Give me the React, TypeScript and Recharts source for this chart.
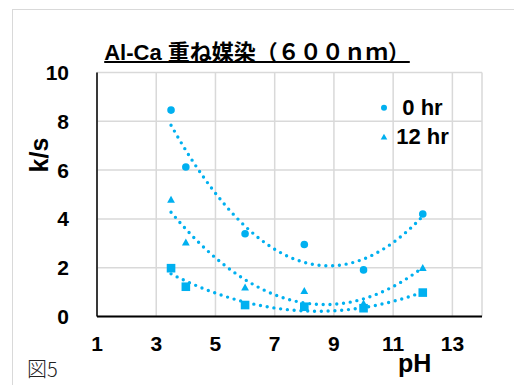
import React from 'react';
import {
	ComposedChart,
	XAxis,
	YAxis,
	CartesianGrid,
	Scatter,
	Line,
	Legend,
} from 'recharts';

const COLOR = '#00B0F0';
const FONT = '"Liberation Sans", Arial, "Noto Sans CJK JP", sans-serif';

const phValues = [3.5, 4, 6, 8, 10, 12];
const hr0 = [8.46, 6.13, 3.39, 2.95, 1.91, 4.2];
const hr12 = [4.8, 3.05, 1.2, 1.06, 0.55, 2.0];
const hr24 = [1.98, 1.22, 0.47, 0.4, 0.34, 0.98];

const xTicks = [1, 3, 5, 7, 9, 11, 13];
const yTicks = [0, 2, 4, 6, 8, 10];
const legendItems = [
	{ name: '0 hr', shape: 'circle' },
	{ name: '12 hr', shape: 'triangle' },
];

// polynomial (order 2) trendline, like Excel's
function quadFit(xs: number[], ys: number[]) {
	let s0 = 0, s1 = 0, s2 = 0, s3 = 0, s4 = 0, t0 = 0, t1 = 0, t2 = 0;
	xs.forEach((x, i) => {
		const y = ys[i];
		s0 += 1; s1 += x; s2 += x * x; s3 += x ** 3; s4 += x ** 4;
		t0 += y; t1 += x * y; t2 += x * x * y;
	});
	const det = (m: number[][]) =>
		m[0][0] * (m[1][1] * m[2][2] - m[1][2] * m[2][1]) -
		m[0][1] * (m[1][0] * m[2][2] - m[1][2] * m[2][0]) +
		m[0][2] * (m[1][0] * m[2][1] - m[1][1] * m[2][0]);
	const A = [[s0, s1, s2], [s1, s2, s3], [s2, s3, s4]];
	const b = [t0, t1, t2];
	const d = det(A);
	const coef = [0, 1, 2].map((k) =>
		det(A.map((row, r) => row.map((v, c) => (c === k ? b[r] : v)))) / d
	);
	const pts = [];
	const lo = Math.min(...xs);
	const hi = Math.max(...xs);
	for (let x = lo; x <= hi + 1e-9; x += 0.05) {
		pts.push({ x, y: coef[0] + coef[1] * x + coef[2] * x * x });
	}
	return pts;
}

const toPoints = (ys: number[]) => phValues.map((x, i) => ({ x, y: ys[i] }));

const CircleMark = (p: any) => <circle cx={p.cx} cy={p.cy} r={3.8} fill={COLOR} />;
const TriMark = (p: any) => (
	<polygon
		points={`${p.cx},${p.cy - 3.6} ${p.cx + 3.9},${p.cy + 3.3} ${p.cx - 3.9},${p.cy + 3.3}`}
		fill={COLOR}
	/>
);
const SquareMark = (p: any) => (
	<rect x={p.cx - 4.3} y={p.cy - 4.3} width={8.6} height={8.6} fill={COLOR} />
);

const renderLegend = () => (
	<svg width={120} height={60} style={{ display: 'block' }}>
		{legendItems.map((item, i) => {
			const cy = 17.7 + i * 29;
			return (
				<g key={item.name}>
					{item.shape === 'circle' ? (
						<circle cx={14} cy={cy} r={3} fill={COLOR} />
					) : (
						<polygon points={`14,${cy - 3} 17.3,${cy + 2.8} 10.7,${cy + 2.8}`} fill={COLOR} />
					)}
					<text
						x={52.5}
						y={cy + 7.5}
						textAnchor='middle'
						fontFamily={FONT}
						fontWeight='bold'
						fontSize={22}
						fill='#000'
					>
						{item.name}
					</text>
				</g>
			);
		})}
	</svg>
);

export default function App() {
	const tick = { fontFamily: FONT, fontWeight: 'bold', fontSize: 21, fill: '#000' };
	const trend = {
		dataKey: 'y',
		type: 'linear' as const,
		dot: false,
		stroke: COLOR,
		strokeWidth: 3.4,
		strokeDasharray: '0 6.8',
		strokeLinecap: 'round' as const,
		isAnimationActive: false,
		legendType: 'none' as const,
	};
	return (
		<div
			style={{
				position: 'absolute',
				left: 0,
				top: 0,
				width: 514,
				height: 385,
				overflow: 'hidden',
				background: '#fff',
			}}
		>
			<div
				style={{
					position: 'absolute',
					left: 12,
					top: 9,
					width: 700,
					height: 600,
					border: '1.5px solid #d9d9d9',
				}}
			/>
			<div
				style={{
					position: 'absolute',
					left: 0,
					top: 42,
					width: 514,
					textAlign: 'center',
					fontFamily: FONT,
					fontWeight: 'bold',
					fontSize: 22,
					lineHeight: '22px',
					textDecoration: 'underline',
					textDecorationThickness: '2px',
					color: '#000',
				}}
			>
				Al-Ca 重ね媒染（６００ｎｍ）
			</div>
			<div style={{ position: 'absolute', left: 0, top: 0 }}>
				<ComposedChart
					width={514}
					height={385}
					margin={{ top: 72.5, right: 32, bottom: 28.5, left: 0 }}
				>
					<CartesianGrid stroke='#d9d9d9' strokeWidth={1.5} />
					<XAxis
						type='number'
						dataKey='x'
						domain={[1, 14]}
						ticks={xTicks}
						allowDataOverflow
						height={40}
						tickLine={false}
						tickSize={0}
						tickMargin={19.5}
						axisLine={{ stroke: '#000', strokeWidth: 2 }}
						tick={tick}
					/>
					<YAxis
						type='number'
						domain={[0, 10]}
						ticks={yTicks}
						width={97}
						tickLine={false}
						tickSize={0}
						tickMargin={28}
						axisLine={{ stroke: '#000', strokeWidth: 1.5 }}
						tick={tick}
					/>
					<Line {...trend} name='0 hr fit' data={quadFit(phValues, hr0)} />
					<Line {...trend} name='12 hr fit' data={quadFit(phValues, hr12)} />
					<Line {...trend} name='24 hr fit' data={quadFit(phValues, hr24)} />
					<Scatter name='0 hr' data={toPoints(hr0)} dataKey='y' shape={CircleMark} isAnimationActive={false} />
					<Scatter name='12 hr' data={toPoints(hr12)} dataKey='y' shape={TriMark} isAnimationActive={false} />
					<Scatter
						name='24 hr'
						data={toPoints(hr24)}
						dataKey='y'
						shape={SquareMark}
						legendType='none'
						isAnimationActive={false}
					/>
					<Legend
						layout='horizontal'
						verticalAlign='middle'
						align='center'
						content={renderLegend}
						wrapperStyle={{ position: 'absolute', left: 370, top: 90, width: 120, height: 60 }}
					/>
				</ComposedChart>
			</div>
			<svg
				width={514}
				height={385}
				style={{ position: 'absolute', left: 0, top: 0, pointerEvents: 'none' }}
			>
				<text
					transform='translate(48,155) rotate(-90)'
					textAnchor='middle'
					fontFamily={FONT}
					fontWeight='bold'
					fontSize={25}
					fill='#000'
				>
					k/s
				</text>
				<text x={398} y={372} fontFamily={FONT} fontWeight='bold' fontSize={25} fill='#000'>
					pH
				</text>
				<text
					x={27}
					y={377}
					fontFamily='"Noto Sans CJK JP", sans-serif'
					fontWeight={300}
					fontSize={20}
					fill='#222'
				>
					図5
				</text>
			</svg>
		</div>
	);
}
